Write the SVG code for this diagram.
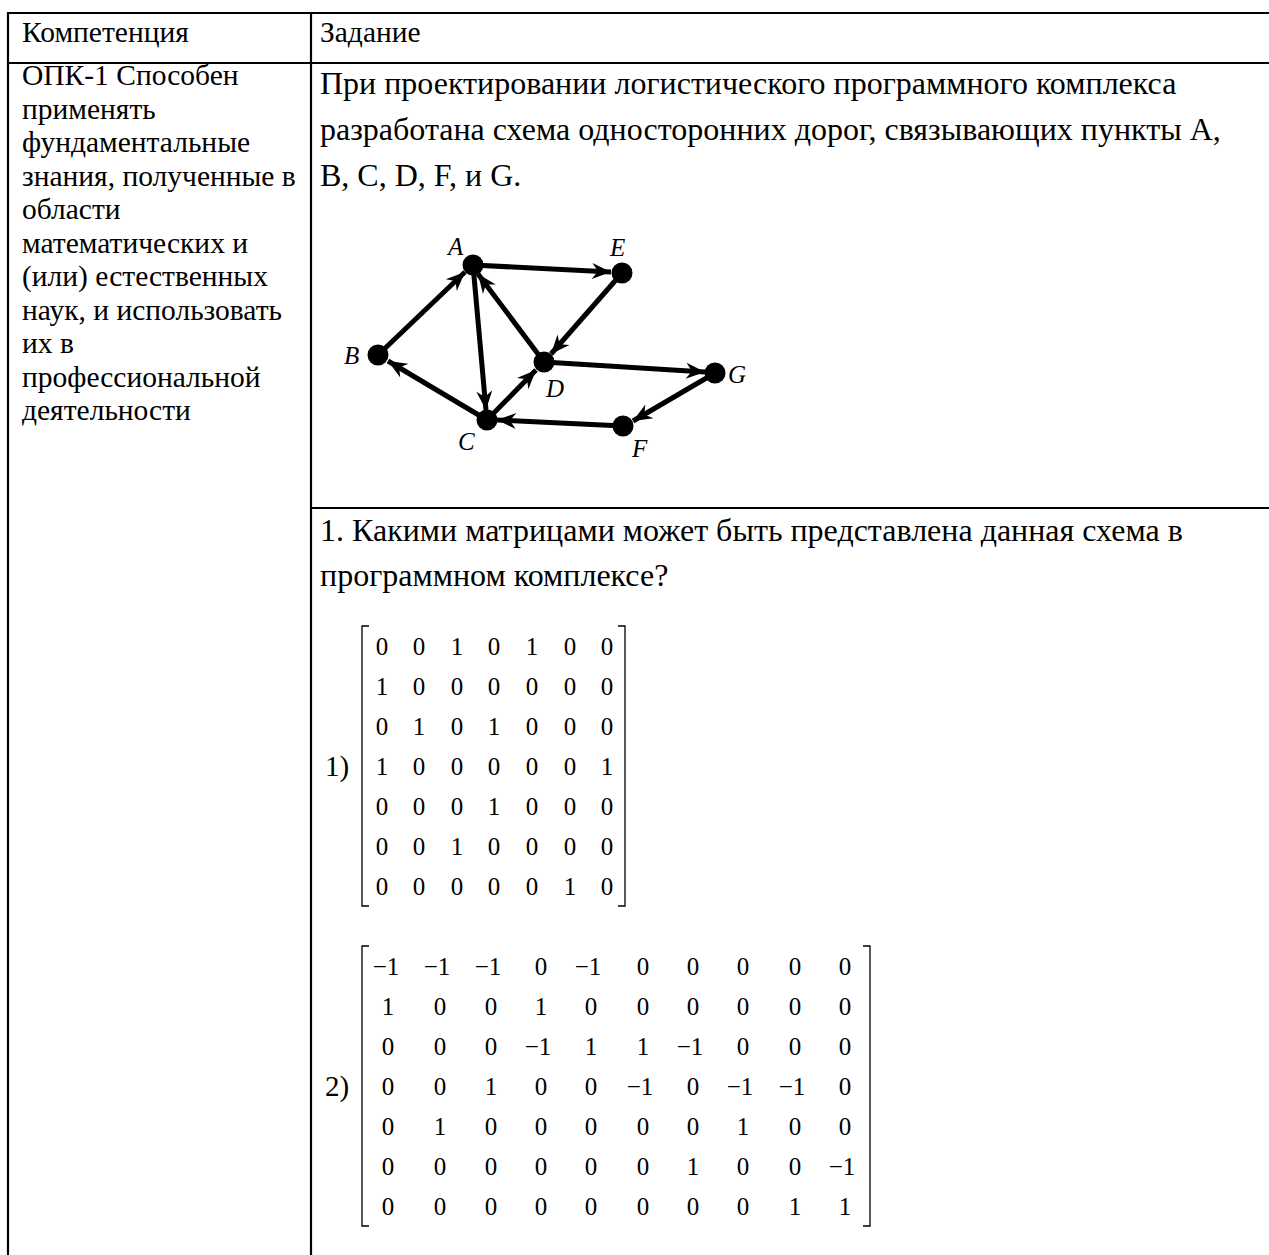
<svg xmlns="http://www.w3.org/2000/svg" width="1269" height="1255" viewBox="0 0 1269 1255">
<defs>
<style>
.t{font-family:"Liberation Serif","Times New Roman",serif;fill:#000}
.lc{font-size:29.5px}
.rc{font-size:32px}
.lbl{font-family:"Liberation Serif","Times New Roman",serif;font-style:italic;font-size:25px}
.m text{font-family:"Liberation Serif","Times New Roman",serif;font-size:25px;text-anchor:middle}
.grid{stroke:#000;stroke-width:2.2;fill:none}
.edge{stroke:#000;stroke-width:5;fill:none;marker-end:url(#ah)}
.br{stroke:#000;stroke-width:1.3;fill:none}
</style>
<marker id="ah" markerUnits="userSpaceOnUse" viewBox="-20 -10 22 20" refX="0" refY="0" markerWidth="22" markerHeight="20" orient="auto">
<path d="M0,0 L-19,-8 L-13,0 L-19,8 Z" fill="#000"/>
</marker>
</defs>
<g id="table">
<line class="grid" x1="8" y1="13" x2="1269" y2="13"/>
<line class="grid" x1="8" y1="63" x2="1269" y2="63"/>
<line class="grid" x1="8" y1="12" x2="8" y2="1255"/>
<line class="grid" x1="311" y1="12" x2="311" y2="1255"/>
<line class="grid" x1="311" y1="508" x2="1269" y2="508"/>
</g>
<g id="header">
<text class="t lc" x="22" y="42">Компетенция</text>
<text class="t lc" x="320" y="42">Задание</text>
</g>
<g id="competence">
<text class="t lc" x="22" y="85">ОПК-1 Способен</text>
<text class="t lc" x="22" y="118.5">применять</text>
<text class="t lc" x="22" y="152">фундаментальные</text>
<text class="t lc" x="22" y="185.5">знания, полученные в</text>
<text class="t lc" x="22" y="219">области</text>
<text class="t lc" x="22" y="252.5">математических и</text>
<text class="t lc" x="22" y="286">(или) естественных</text>
<text class="t lc" x="22" y="319.5">наук, и использовать</text>
<text class="t lc" x="22" y="353">их в</text>
<text class="t lc" x="22" y="386.5">профессиональной</text>
<text class="t lc" x="22" y="420">деятельности</text>
</g>
<g id="task">
<text class="t rc" x="320" y="94">При проектировании логистического программного комплекса</text>
<text class="t rc" x="320" y="140">разработана схема односторонних дорог, связывающих пункты A,</text>
<text class="t rc" x="320" y="186">B, C, D, F, и G.</text>
</g>
<g id="connectors">
<line class="edge" x1="378" y1="355" x2="465" y2="272"/>
<line class="edge" x1="473" y1="265" x2="611" y2="272"/>
<line class="edge" x1="473" y1="265" x2="486" y2="410"/>
<line class="edge" x1="544" y1="362" x2="478" y2="274"/>
<line class="edge" x1="622" y1="273" x2="551" y2="354"/>
<line class="edge" x1="487" y1="420" x2="388" y2="361"/>
<line class="edge" x1="487" y1="420" x2="536" y2="370"/>
<line class="edge" x1="544" y1="362" x2="705" y2="372"/>
<line class="edge" x1="715" y1="373" x2="633" y2="421"/>
<line class="edge" x1="623" y1="426" x2="497" y2="420"/>
</g>
<g id="node-A"><circle cx="473" cy="265" r="10.5"/><text class="lbl" x="448" y="255">A</text></g>
<g id="node-E"><circle cx="622" cy="273" r="10.5"/><text class="lbl" x="610" y="256">E</text></g>
<g id="node-B"><circle cx="378" cy="355" r="10.5"/><text class="lbl" x="344" y="364">B</text></g>
<g id="node-D"><circle cx="544" cy="362" r="10.5"/><text class="lbl" x="546" y="397">D</text></g>
<g id="node-G"><circle cx="715" cy="373" r="10.5"/><text class="lbl" x="728" y="383">G</text></g>
<g id="node-C"><circle cx="487" cy="420" r="10.5"/><text class="lbl" x="458" y="450">C</text></g>
<g id="node-F"><circle cx="623" cy="426" r="10.5"/><text class="lbl" x="632" y="457">F</text></g>
<g id="question">
<text class="t rc" x="320" y="541">1. Какими матрицами может быть представлена данная схема в</text>
<text class="t rc" x="320" y="586">программном комплексе?</text>
</g>
<g id="matrix1">
<text class="t" x="325" y="776" font-size="29">1)</text>
<path class="br" d="M369,626 H362 V906 H369"/>
<path class="br" d="M618,626 H625 V906 H618"/>
<g class="m">
<text x="382" y="654.5">0</text><text x="419" y="654.5">0</text><text x="457" y="654.5">1</text><text x="494" y="654.5">0</text><text x="532" y="654.5">1</text><text x="570" y="654.5">0</text><text x="607" y="654.5">0</text>
<text x="382" y="694.5">1</text><text x="419" y="694.5">0</text><text x="457" y="694.5">0</text><text x="494" y="694.5">0</text><text x="532" y="694.5">0</text><text x="570" y="694.5">0</text><text x="607" y="694.5">0</text>
<text x="382" y="734.5">0</text><text x="419" y="734.5">1</text><text x="457" y="734.5">0</text><text x="494" y="734.5">1</text><text x="532" y="734.5">0</text><text x="570" y="734.5">0</text><text x="607" y="734.5">0</text>
<text x="382" y="774.5">1</text><text x="419" y="774.5">0</text><text x="457" y="774.5">0</text><text x="494" y="774.5">0</text><text x="532" y="774.5">0</text><text x="570" y="774.5">0</text><text x="607" y="774.5">1</text>
<text x="382" y="814.5">0</text><text x="419" y="814.5">0</text><text x="457" y="814.5">0</text><text x="494" y="814.5">1</text><text x="532" y="814.5">0</text><text x="570" y="814.5">0</text><text x="607" y="814.5">0</text>
<text x="382" y="854.5">0</text><text x="419" y="854.5">0</text><text x="457" y="854.5">1</text><text x="494" y="854.5">0</text><text x="532" y="854.5">0</text><text x="570" y="854.5">0</text><text x="607" y="854.5">0</text>
<text x="382" y="894.5">0</text><text x="419" y="894.5">0</text><text x="457" y="894.5">0</text><text x="494" y="894.5">0</text><text x="532" y="894.5">0</text><text x="570" y="894.5">1</text><text x="607" y="894.5">0</text>
</g>
</g>
<g id="matrix2">
<text class="t" x="325" y="1096" font-size="29">2)</text>
<path class="br" d="M369,946 H362 V1226 H369"/>
<path class="br" d="M863,946 H870 V1226 H863"/>
<g class="m">
<text x="386" y="974.5">−1</text><text x="437" y="974.5">−1</text><text x="488" y="974.5">−1</text><text x="541" y="974.5">0</text><text x="588" y="974.5">−1</text><text x="643" y="974.5">0</text><text x="693" y="974.5">0</text><text x="743" y="974.5">0</text><text x="795" y="974.5">0</text><text x="845" y="974.5">0</text>
<text x="388" y="1014.5">1</text><text x="440" y="1014.5">0</text><text x="491" y="1014.5">0</text><text x="541" y="1014.5">1</text><text x="591" y="1014.5">0</text><text x="643" y="1014.5">0</text><text x="693" y="1014.5">0</text><text x="743" y="1014.5">0</text><text x="795" y="1014.5">0</text><text x="845" y="1014.5">0</text>
<text x="388" y="1054.5">0</text><text x="440" y="1054.5">0</text><text x="491" y="1054.5">0</text><text x="538" y="1054.5">−1</text><text x="591" y="1054.5">1</text><text x="643" y="1054.5">1</text><text x="690" y="1054.5">−1</text><text x="743" y="1054.5">0</text><text x="795" y="1054.5">0</text><text x="845" y="1054.5">0</text>
<text x="388" y="1094.5">0</text><text x="440" y="1094.5">0</text><text x="491" y="1094.5">1</text><text x="541" y="1094.5">0</text><text x="591" y="1094.5">0</text><text x="640" y="1094.5">−1</text><text x="693" y="1094.5">0</text><text x="740" y="1094.5">−1</text><text x="792" y="1094.5">−1</text><text x="845" y="1094.5">0</text>
<text x="388" y="1134.5">0</text><text x="440" y="1134.5">1</text><text x="491" y="1134.5">0</text><text x="541" y="1134.5">0</text><text x="591" y="1134.5">0</text><text x="643" y="1134.5">0</text><text x="693" y="1134.5">0</text><text x="743" y="1134.5">1</text><text x="795" y="1134.5">0</text><text x="845" y="1134.5">0</text>
<text x="388" y="1174.5">0</text><text x="440" y="1174.5">0</text><text x="491" y="1174.5">0</text><text x="541" y="1174.5">0</text><text x="591" y="1174.5">0</text><text x="643" y="1174.5">0</text><text x="693" y="1174.5">1</text><text x="743" y="1174.5">0</text><text x="795" y="1174.5">0</text><text x="842" y="1174.5">−1</text>
<text x="388" y="1214.5">0</text><text x="440" y="1214.5">0</text><text x="491" y="1214.5">0</text><text x="541" y="1214.5">0</text><text x="591" y="1214.5">0</text><text x="643" y="1214.5">0</text><text x="693" y="1214.5">0</text><text x="743" y="1214.5">0</text><text x="795" y="1214.5">1</text><text x="845" y="1214.5">1</text>
</g>
</g>
</svg>
